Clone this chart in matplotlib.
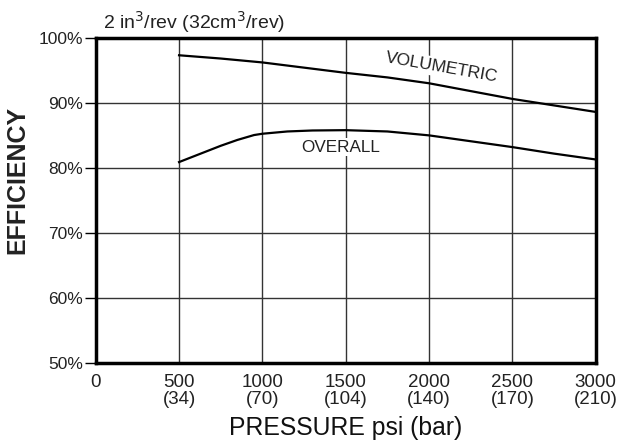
import matplotlib
matplotlib.use("Agg")
import matplotlib.pyplot as plt
import numpy as np

# values (psi, % efficiency)
pressure_psi = [500, 750, 1000, 1250, 1500, 1750, 2000, 2250, 2500, 2750, 3000]
volumetric = [97.3, 96.8, 96.2, 95.4, 94.6, 93.9, 93.0, 91.8, 90.6, 89.6, 88.6]
overall_psi = [500, 650, 750, 850, 950, 1000, 1150, 1300, 1500, 1750, 2000, 2250, 2500, 2750, 3000]
overall = [80.9, 82.4, 83.4, 84.3, 85.05, 85.25, 85.6, 85.75, 85.8, 85.6, 85.0, 84.1, 83.2, 82.2, 81.3]

xtick_values = [0, 500, 1000, 1500, 2000, 2500, 3000]
xtick_labels = ["0", "500\n(34)", "1000\n(70)", "1500\n(104)", "2000\n(140)", "2500\n(170)", "3000\n(210)"]
ytick_values = [50, 60, 70, 80, 90, 100]
ytick_labels = ["50%", "60%", "70%", "80%", "90%", "100%"]

plt.rcParams['font.family'] = ['Liberation Sans', 'DejaVu Sans']

fig = plt.figure(figsize=(6.22, 4.46), dpi=100)
ax = fig.add_axes([0.1539, 0.1854, 0.8038, 0.7301])

ax.plot(pressure_psi, volumetric, color="black", linewidth=1.6, zorder=3)
ax.plot(overall_psi, overall, color="black", linewidth=1.6, zorder=3)

ax.set_xlim(0, 3000)
ax.set_ylim(50, 100)
ax.set_xticks(xtick_values)
ax.set_xticklabels(xtick_labels, fontsize=13.5, linespacing=1.0, color="#222222")
ax.set_yticks(ytick_values)
ax.set_yticklabels(ytick_labels, fontsize=12.5, color="#222222")
ax.tick_params(axis="x", length=0, pad=8)
ax.tick_params(axis="y", length=8, width=1, pad=1)

ax.grid(True, color="#333333", linewidth=1.0)
ax.set_axisbelow(True)
for side in ax.spines.values():
    side.set_linewidth(2.5)

ax.text(2078, 95.4, "VOLUMETRIC", fontsize=12.5, rotation=-10, ha="center", va="center",
        rotation_mode="anchor", color="#222222",
        bbox=dict(facecolor="white", edgecolor="none", pad=1.5), zorder=2)
ax.text(1471, 83.2, "OVERALL", fontsize=12.3, ha="center", va="center", color="#222222",
        bbox=dict(facecolor="white", edgecolor="none", pad=1.0), zorder=2)

fig.text(103 / 622, 1 - 22 / 446, "2 in$^3$/rev (32cm$^3$/rev)", fontsize=14, ha="left", va="center",
         color="#222222")

fig.text(17.5 / 622, 1 - 180 / 446, "EFFICIENCY", fontsize=18, fontweight="bold", rotation=90,
         ha="center", va="center", color="#222222")
fig.text(346 / 622, 1 - 428 / 446, "PRESSURE psi (bar)", fontsize=17.8, ha="center", va="center",
         color="#111111")

fig.savefig("out.png", dpi=100)
